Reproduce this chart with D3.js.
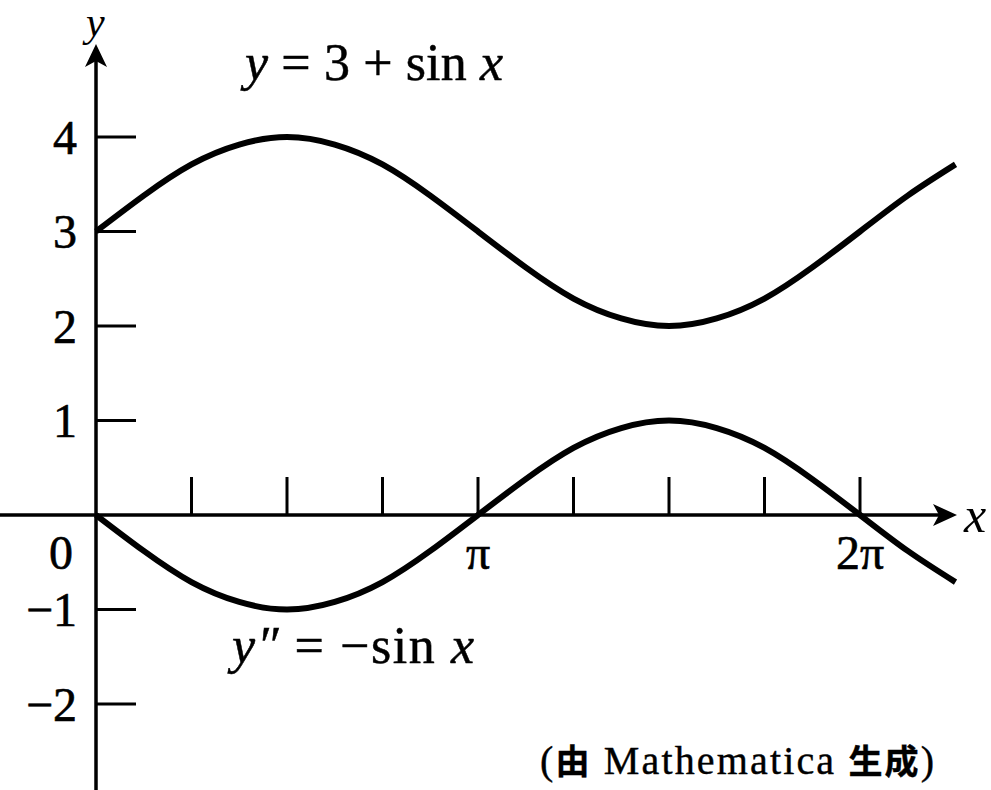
<!DOCTYPE html>
<html><head><meta charset="utf-8">
<script src="https://cdn.jsdelivr.net/npm/d3@7/dist/d3.min.js"></script>
<style>
html,body{margin:0;padding:0;background:#fff;}
svg{display:block;}
text{font-family:"Liberation Serif","DejaVu Serif",serif;fill:#000;}
</style></head>
<body>
<svg id="chart" width="991" height="790"></svg>
<script>
// x positions in multiples of π
const curveX = [0, 0.125, 0.25, 0.375, 0.5, 0.625, 0.75, 0.875, 1, 1.125, 1.25, 1.375, 1.5, 1.625, 1.75, 1.875, 2, 2.125, 2.25];
// y = 3 + sin x
const upperY = [3.00, 3.38, 3.71, 3.92, 4.00, 3.92, 3.71, 3.38, 3.00, 2.62, 2.29, 2.08, 2.00, 2.08, 2.29, 2.62, 3.00, 3.38, 3.71];
// y'' = -sin x
const lowerY = [0.00, -0.38, -0.71, -0.92, -1.00, -0.92, -0.71, -0.38, 0.00, 0.38, 0.71, 0.92, 1.00, 0.92, 0.71, 0.38, 0.00, -0.38, -0.71];
const xTicks = [0.25, 0.5, 0.75, 1, 1.25, 1.5, 1.75, 2];
const xTickLabels = [{v: 0, t: "0"}, {v: 1, t: "π"}, {v: 2, t: "2π"}];
const yTicks = [-2, -1, 1, 2, 3, 4];
const yTickLabels = ["−2", "−1", "1", "2", "3", "4"];

const svg = d3.select("#chart");
const x = d3.scaleLinear().domain([0, 2]).range([96, 860]);
const y = d3.scaleLinear().domain([-2, 4]).range([704, 137]);
const x0 = x(0), y0 = y(0);

// axes lines
svg.append("line").attr("x1", 0).attr("x2", 950).attr("y1", y0).attr("y2", y0)
  .attr("stroke", "#000").attr("stroke-width", 3.5);
svg.append("line").attr("x1", x0).attr("x2", x0).attr("y1", 790).attr("y2", 55)
  .attr("stroke", "#000").attr("stroke-width", 3.5);
// arrows
svg.append("path").attr("d", `M${957},${y0} L${933},${y0-11} L${939},${y0} L${933},${y0+11} Z`).attr("fill", "#000");
svg.append("path").attr("d", `M${x0},${44} L${x0-11},${67} L${x0},${61} L${x0+11},${67} Z`).attr("fill", "#000");

// x ticks
svg.selectAll(".xt").data(xTicks).enter().append("line")
  .attr("x1", d => x(d)).attr("x2", d => x(d)).attr("y1", y0).attr("y2", y0 - 38)
  .attr("stroke", "#000").attr("stroke-width", 3);
// y ticks
svg.selectAll(".yt").data(yTicks).enter().append("line")
  .attr("x1", x0).attr("x2", x0 + 40).attr("y1", d => y(d)).attr("y2", d => y(d))
  .attr("stroke", "#000").attr("stroke-width", 3);

// y tick labels
svg.selectAll(".yl").data(yTicks).enter().append("text")
  .attr("x", 77).attr("y", d => y(d)).attr("dy", "0.35em")
  .attr("text-anchor", "end").attr("font-size", 48)
  .attr("stroke", "#000").attr("stroke-width", 0.6)
  .text((d, i) => yTickLabels[i]);
// x tick labels
svg.selectAll(".xl").data(xTickLabels).enter().append("text")
  .attr("x", d => d.v === 0 ? 61 : x(d.v)).attr("y", 569)
  .attr("text-anchor", "middle").attr("font-size", 48)
  .attr("stroke", "#000").attr("stroke-width", 0.6)
  .text(d => d.t);

// axis labels
svg.append("text").attr("x", 86).attr("y", 36).attr("font-size", 42).attr("font-style", "italic").text("y");
svg.append("text").attr("x", 964).attr("y", 532).attr("font-size", 50).attr("font-style", "italic").text("x");

// curves
const line = d3.line().x(d => x(d[0])).y(d => y(d[1])).curve(d3.curveNatural);
svg.append("path").datum(curveX.map((v, i) => [v, upperY[i]]))
  .attr("d", line).attr("fill", "none").attr("stroke", "#000").attr("stroke-width", 6);
svg.append("path").datum(curveX.map((v, i) => [v, lowerY[i]]))
  .attr("d", line).attr("fill", "none").attr("stroke", "#000").attr("stroke-width", 6);

// curve labels
const t1 = svg.append("text").attr("x", 245).attr("y", 80).attr("font-size", 52)
  .attr("textLength", 258).attr("lengthAdjust", "spacing")
  .attr("stroke", "#000").attr("stroke-width", 0.5);
t1.append("tspan").attr("font-style", "italic").text("y");
t1.append("tspan").text(" = 3 + sin ");
t1.append("tspan").attr("font-style", "italic").text("x");

const t2 = svg.append("text").attr("x", 232).attr("y", 663).attr("font-size", 52)
  .attr("textLength", 242).attr("lengthAdjust", "spacing")
  .attr("stroke", "#000").attr("stroke-width", 0.5);
t2.append("tspan").attr("font-style", "italic").text("y″");
t2.append("tspan").text(" = −sin ");
t2.append("tspan").attr("font-style", "italic").text("x");

// caption
const t3 = svg.append("text").attr("x", 540).attr("y", 774).attr("font-size", 40)
  .attr("textLength", 394).attr("lengthAdjust", "spacing")
  .attr("stroke", "#000").attr("stroke-width", 0.4);
t3.append("tspan").text("(");
t3.append("tspan").attr("font-family", "'Noto Sans CJK SC'").attr("font-size", 34).attr("font-weight", "bold").text("由");
t3.append("tspan").text(" Mathematica ");
t3.append("tspan").attr("font-family", "'Noto Sans CJK SC'").attr("font-size", 34).attr("font-weight", "bold").text("生成");
t3.append("tspan").text(")");
</script>
</body></html>
